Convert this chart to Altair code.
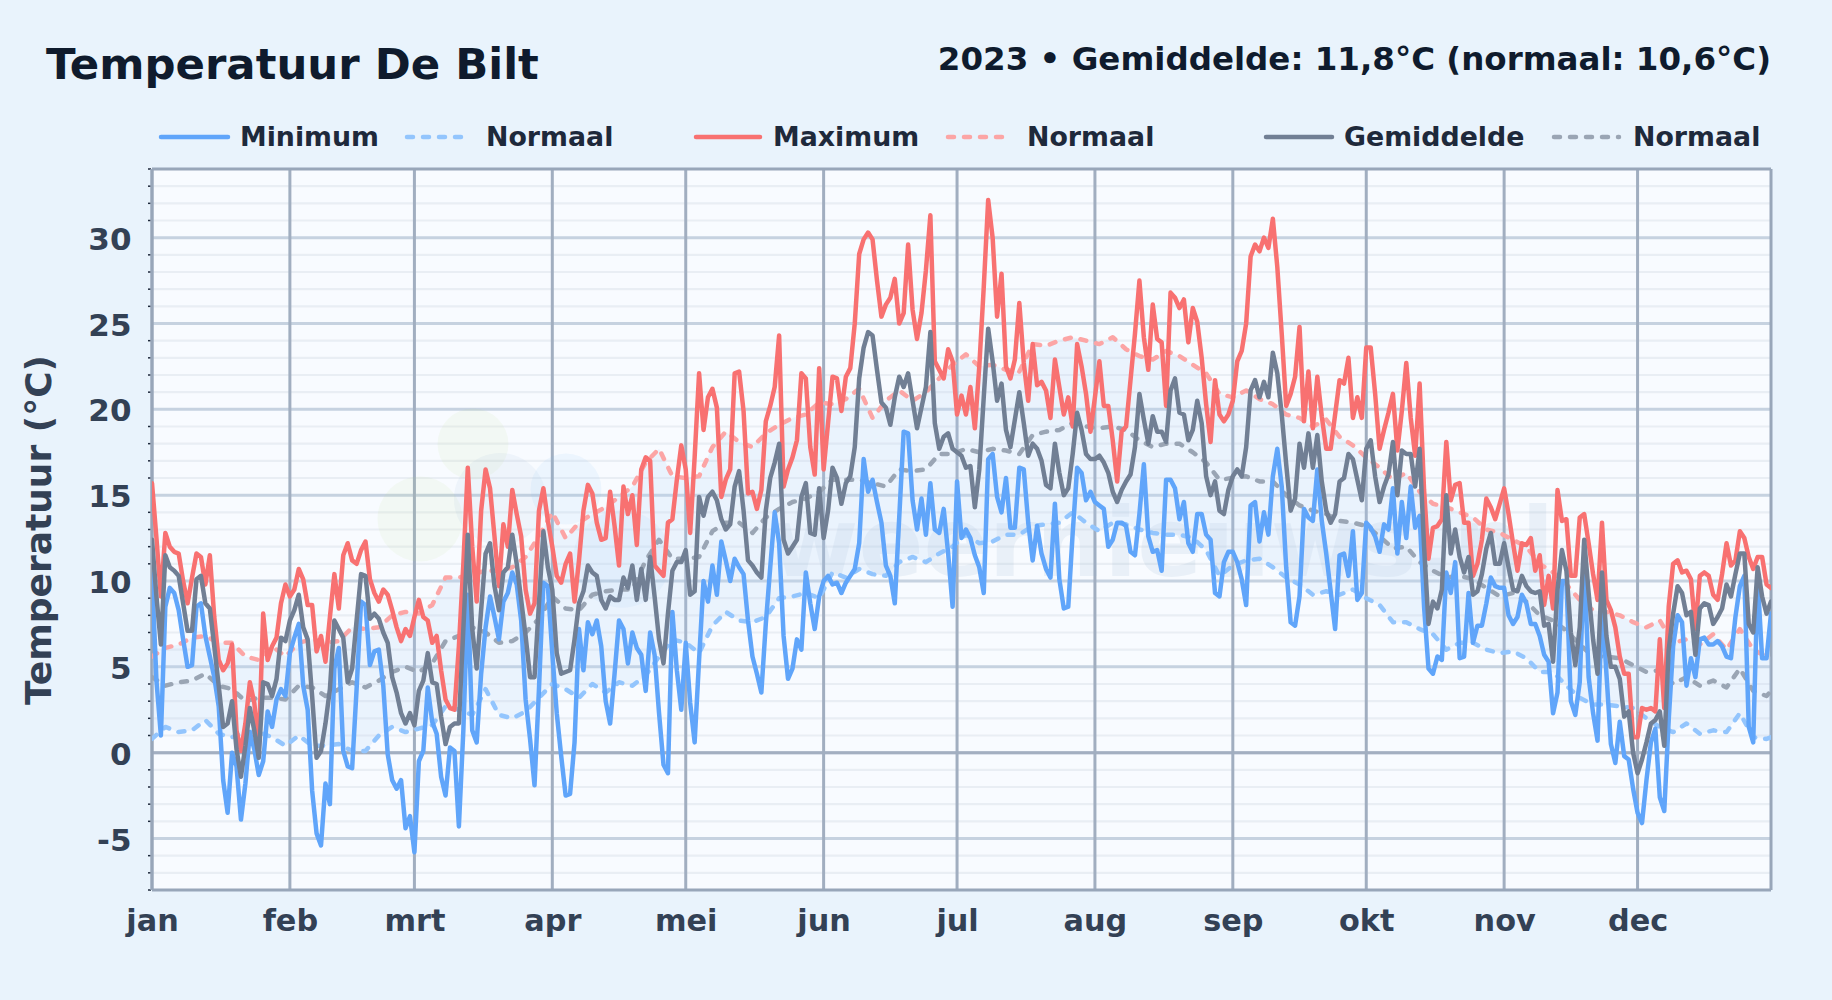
import altair as alt
import pandas as pd

TITLE = "Temperatuur De Bilt"
SUBTITLE = "2023 • Gemiddelde: 11,8°C (normaal: 10,6°C)"
MONTHS = ["jan", "feb", "mrt", "apr", "mei", "jun", "jul", "aug", "sep", "okt", "nov", "dec"]
MONTH_DAYS = [0, 31, 59, 90, 120, 151, 181, 212, 243, 273, 304, 334]
Y_MAJOR = [-5, 0, 5, 10, 15, 20, 25, 30]
Y_MINOR = [-7, -6, -4, -3, -2, -1, 1, 2, 3, 4, 6, 7, 8, 9, 11, 12, 13, 14, 16, 17, 18, 19,
           21, 22, 23, 24, 26, 27, 28, 29, 31, 32, 33]
Y_EDGES = [-8, 34]
X_EDGES = [0, 364]

T_MIN = [10.4,4.2,1.0,8.5,9.6,9.3,8.3,6.6,5.0,5.1,
 8.5,8.7,6.8,5.6,4.4,2.7,-1.6,-3.5,0.0,-0.8,
 -3.9,-1.8,1.2,0.2,-1.3,-0.5,2.4,1.5,3.1,3.7,
 3.3,5.8,6.7,7.5,3.9,2.5,-2.2,-4.7,-5.4,-1.8,
 -3.0,4.9,6.1,0.1,-0.8,-0.9,3.7,8.8,8.6,5.1,
 5.9,6.0,3.9,-0.1,-1.6,-2.1,-1.6,-4.4,-3.7,-5.8,
 -0.5,0.1,3.8,1.8,1.1,-1.4,-2.5,0.3,0.1,-4.3,
 1.3,9.2,1.3,0.6,4.6,7.3,9.1,7.9,6.6,8.8,
 9.3,10.5,9.8,7.7,3.1,0.8,-1.9,3.7,9.9,9.7,
 5.8,2.3,-0.2,-2.5,-2.4,0.6,7.2,4.8,7.6,6.9,
 7.7,6.2,3.0,1.7,4.6,7.7,7.2,5.2,7.0,6.1,
 5.7,3.6,7.0,5.7,2.3,-0.7,-1.2,8.2,4.8,2.5,
 6.4,2.9,0.6,5.4,10.0,8.8,10.9,9.2,12.3,11.2,
 10.0,11.3,10.8,10.4,7.7,5.6,4.6,3.5,7.5,10.8,
 14.0,12.2,6.8,4.3,4.9,6.6,6.0,10.5,8.7,7.2,
 9.1,10.0,10.3,9.8,9.9,9.3,9.9,10.3,10.7,12.2,
 17.1,15.2,15.9,14.6,13.4,10.9,10.3,8.7,13.7,18.7,
 18.6,14.7,13.0,14.8,12.7,15.7,13.0,12.8,14.2,11.6,
 8.5,15.8,12.5,13.0,12.5,11.5,10.8,9.3,17.1,17.4,
 14.9,14.0,16.0,13.1,13.1,16.6,16.5,13.4,11.2,13.2,
 11.6,10.7,10.2,14.5,10.1,8.4,8.5,12.8,16.6,16.3,
 14.7,15.2,14.6,14.4,14.2,12.0,12.4,13.4,13.4,13.2,
 11.7,11.5,13.9,16.8,12.6,11.7,11.8,10.6,15.9,15.9,
 15.4,13.6,14.6,12.2,11.7,13.9,13.9,12.7,12.4,9.3,
 9.1,11.1,11.7,11.7,11.1,10.1,8.6,14.4,14.6,12.3,
 14.0,12.7,16.1,17.7,15.5,10.8,7.6,7.4,9.1,14.2,
 13.7,13.5,16.5,13.5,11.6,9.4,7.2,11.5,11.6,10.3,
 12.9,8.9,9.3,13.4,13.1,12.6,11.7,13.3,13.0,15.4,
 11.6,14.6,12.5,15.5,13.1,13.8,8.5,4.9,4.6,5.6,
 5.4,10.5,9.3,11.1,5.5,5.6,9.3,6.4,7.4,7.4,
 8.7,10.2,9.7,9.6,9.6,8.0,7.5,7.9,9.2,8.7,
 7.5,7.5,6.8,5.7,5.3,2.3,3.5,10.0,10.0,3.0,
 2.2,4.1,11.2,4.4,2.3,0.7,8.7,4.6,0.5,-0.6,
 1.8,-0.2,-0.4,-2.1,-3.5,-4.1,-1.6,0.6,1.4,-2.6,
 -3.4,1.9,6.2,8.0,7.6,3.9,5.5,4.4,6.6,6.7,
 6.3,6.3,6.5,6.2,5.6,5.5,7.9,9.7,10.3,1.5,
 0.6,10.1,5.5,5.5,8.1]

T_MAX = [15.7,12.5,9.1,12.8,12.0,11.7,11.6,10.0,8.7,10.2,
 11.6,11.4,9.8,11.5,7.9,5.4,4.8,5.2,6.3,1.3,
 0.1,1.7,4.1,2.9,0.3,8.1,5.4,6.2,6.7,8.7,
 9.8,9.1,9.5,10.7,10.1,8.6,8.6,5.9,6.8,5.3,
 7.9,10.4,8.4,11.5,12.2,11.2,11.0,11.8,12.3,10.1,
 9.3,8.8,9.5,9.2,8.3,7.3,6.5,7.2,6.8,7.9,
 8.9,7.9,7.7,6.4,6.8,4.8,3.1,2.6,2.5,6.2,
 11.0,16.6,12.0,8.8,14.1,16.5,15.4,12.6,9.7,13.3,
 12.0,15.3,13.9,12.6,9.5,8.1,8.7,14.1,15.4,13.5,
 12.0,10.3,9.9,11.0,11.6,8.8,11.2,14.1,15.6,15.1,
 13.4,12.4,12.5,15.2,13.2,10.9,15.5,13.9,15.0,12.1,
 16.5,17.2,17.0,10.9,10.6,10.3,13.4,13.6,15.9,17.9,
 16.5,12.8,17.2,22.1,18.8,20.7,21.2,20.1,14.9,15.9,
 16.5,22.1,22.2,19.9,15.1,15.2,14.2,15.3,19.3,20.2,
 21.3,24.3,15.5,16.5,17.2,18.2,22.1,21.8,17.8,16.2,
 22.4,16.5,19.2,21.9,21.8,19.9,21.9,22.4,25.0,29.05,
 29.9,30.3,29.9,27.5,25.4,26.1,26.5,27.6,25.0,25.6,
 29.6,25.8,24.1,25.6,28.1,31.3,22.8,22.3,21.8,23.5,
 22.8,19.7,20.8,19.7,21.3,18.9,22.5,27.1,32.2,30.0,
 25.4,27.9,22.5,21.8,22.9,26.2,22.7,20.5,23.8,21.4,
 21.6,21.1,19.5,22.9,21.3,19.7,20.7,19.0,23.8,22.5,
 20.9,18.7,20.7,22.8,20.2,20.2,18.2,15.8,18.7,19.0,
 21.7,24.4,27.5,24.2,22.3,26.1,24.1,23.9,20.2,26.8,
 26.5,25.9,26.4,23.9,25.9,25.1,23.0,20.3,18.1,21.7,
 19.7,19.3,19.7,20.5,22.8,23.4,25.0,28.9,29.6,29.2,
 30.0,29.4,31.1,28.3,24.4,20.2,20.9,21.9,24.8,19.3,
 22.2,18.9,21.9,19.6,17.7,17.7,19.7,21.7,21.5,23.0,
 19.5,20.7,19.5,23.6,23.6,20.9,17.7,18.8,19.8,20.9,
 17.6,19.9,22.7,19.5,17.3,21.5,15.3,11.3,13.1,13.2,
 13.6,18.1,14.7,15.6,15.7,13.4,13.4,10.3,11.0,12.4,
 14.8,14.3,13.6,14.5,15.4,13.9,12.2,10.6,12.2,12.1,
 12.5,10.6,11.5,8.6,10.3,8.4,15.3,13.5,13.6,10.3,
 10.3,13.7,13.9,12.2,10.4,8.9,13.4,8.9,8.3,7.3,
 5.6,4.6,4.6,0.9,0.9,2.6,2.5,2.6,2.4,6.6,
 2.6,8.5,11.0,11.2,10.5,10.6,10.1,7.2,10.3,10.5,
 10.3,9.2,8.9,10.4,12.2,10.9,11.2,12.9,12.5,11.4,
 10.7,11.4,11.4,9.8,9.6]

T_MEAN = [12.4,9.1,6.3,11.5,10.8,10.6,10.3,8.7,7.1,7.1,
 10.1,10.3,8.7,8.4,6.2,3.9,1.5,1.7,3.0,0.2,
 -1.4,0.4,2.6,1.3,-0.3,4.1,4.0,3.3,4.3,6.7,
 6.5,7.7,8.3,9.2,7.3,6.6,3.3,-0.3,0.1,1.7,
 3.7,7.7,7.2,6.7,4.1,4.9,7.7,10.4,10.3,7.8,
 8.1,7.8,7.0,6.4,4.4,3.5,2.3,1.7,2.3,1.6,
 3.6,4.2,5.8,4.1,4.0,2.1,0.5,1.5,1.7,1.7,
 7.2,12.7,7.2,4.9,8.3,11.6,12.2,9.7,8.3,10.5,
 10.8,12.7,11.0,8.9,6.8,4.4,4.4,8.7,12.9,10.8,
 9.5,5.8,4.6,4.7,4.8,6.6,8.7,9.4,10.9,10.5,
 10.3,8.9,8.4,9.1,8.9,8.9,10.2,9.6,10.9,8.9,
 10.7,8.9,11.4,9.1,6.6,5.2,8.1,10.6,11.1,11.1,
 11.8,9.2,9.4,14.9,13.8,14.9,15.2,14.7,13.6,13.0,
 13.3,15.5,16.4,14.1,11.2,10.9,10.5,10.2,14.1,16.0,
 16.9,18.0,12.4,11.6,12.0,12.4,14.9,15.7,12.8,12.7,
 15.4,12.5,14.1,16.6,16.0,14.5,15.7,16.1,17.8,21.8,
 23.6,24.5,24.3,22.3,20.4,20.1,19.1,20.7,21.9,21.3,
 22.1,20.5,18.9,20.1,21.3,24.5,19.2,17.7,18.4,18.6,
 17.7,17.5,17.3,16.6,16.7,14.3,16.5,20.7,24.7,22.8,
 20.5,21.5,18.8,17.8,19.4,21.0,19.2,17.3,18.0,17.7,
 17.0,15.6,15.4,18.0,16.3,15.0,15.4,17.4,19.8,18.8,
 17.4,17.1,17.1,17.3,16.9,16.3,15.2,14.6,15.3,15.8,
 16.2,17.8,20.9,19.4,18.0,19.6,18.7,18.7,18.1,21.1,
 21.8,19.8,19.7,18.2,18.8,20.5,19.2,16.1,15.0,15.8,
 14.1,13.9,15.3,16.1,16.5,16.1,17.8,21.1,21.7,20.7,
 21.6,20.7,23.3,22.1,19.7,16.8,14.1,14.8,18.0,16.6,
 18.6,16.6,18.5,15.8,14.1,13.4,13.9,15.8,16.0,17.4,
 17.1,15.9,14.7,17.7,18.2,16.1,14.6,15.5,16.2,18.1,
 15.0,17.6,17.4,17.4,15.5,17.7,12.0,7.5,8.8,8.4,
 9.5,15.0,11.6,13.0,11.4,10.5,11.4,9.2,9.4,10.4,
 11.9,12.8,11.0,11.0,12.2,10.8,9.5,9.4,10.3,9.7,
 9.4,9.3,9.4,7.4,7.5,5.3,9.5,11.8,10.6,7.0,
 5.1,7.3,12.4,9.3,6.6,4.6,10.5,6.8,5.0,5.0,
 4.3,2.1,2.4,0.0,-1.2,-0.4,0.6,1.7,1.9,2.4,
 0.4,6.0,8.1,9.7,9.3,8.0,8.2,5.7,8.4,8.7,
 8.6,7.5,7.9,8.4,9.8,9.1,10.4,11.6,11.6,7.5,
 7.0,10.8,9.1,8.1,8.8]

NORMAL_DAYS = list(range(0, 364, 3)) + [364]

N_MAX = [5.6,6.1,6.3,6.7,6.8,6.4,6.4,5.6,5.4,6.2,5.6,6.4,6.6,6.4,6.5,7.3,7.2,7.3,8.0,8.2,8.1,8.6,
 10.2,10.2,10.4,10.6,10.6,10.8,11.4,12.6,14.0,12.5,13.4,13.9,14.3,14.9,15.5,16.9,17.7,16.1,16.0,16.1,
 17.8,18.7,18.1,17.8,18.6,19.1,19.5,19.7,20.4,20.3,20.6,21.2,19.5,20.5,21.1,20.5,21.0,21.8,22.6,23.2,
 22.5,22.6,22.3,22.2,23.8,23.7,24.0,24.2,24.0,23.8,24.2,23.5,23.1,22.9,23.4,23.1,22.6,22.1,20.9,20.7,
 21.1,20.6,20.3,19.7,19.5,19.0,19.4,18.4,17.9,17.2,16.6,15.9,16.3,15.2,14.5,14.3,14.0,13.7,13.0,12.8,
 12.4,12.0,11.0,10.5,9.8,8.9,8.3,8.2,8.0,7.6,7.3,7.7,6.4,6.6,6.3,6.9,6.0,7.2,6.0,5.6,5.6]

N_MEAN = [4.4,3.9,4.1,4.2,4.6,3.9,3.7,3.0,3.2,3.2,3.1,3.9,3.8,3.3,3.7,4.1,3.8,4.2,4.7,5.0,4.7,5.2,
 6.5,6.8,7.3,7.0,6.4,6.5,7.0,7.8,9.1,8.4,8.3,9.2,9.4,9.5,9.5,11.2,12.4,11.3,11.3,11.4,
 12.9,13.4,13.4,12.8,13.7,14.2,14.6,14.8,15.2,15.9,15.9,15.9,15.7,15.5,16.5,16.4,16.5,17.4,17.4,17.7,
 17.5,17.7,17.6,17.4,18.5,18.7,18.8,19.2,19.0,18.9,19.0,18.8,18.2,17.8,18.0,18.0,17.5,16.9,15.9,16.0,
 16.1,15.8,15.8,15.0,14.4,14.1,13.9,13.5,13.4,13.2,12.6,11.9,12.0,11.1,10.6,10.2,10.3,10.1,9.6,9.1,
 9.3,8.8,8.0,7.7,7.1,6.3,5.6,5.6,5.5,5.1,4.7,4.8,4.0,4.4,3.9,4.2,3.8,4.9,3.6,3.3,3.6]

N_MIN = [0.8,1.5,1.2,1.3,1.9,1.1,0.9,1.2,1.2,0.9,0.4,1.0,0.4,0.4,0.5,0.1,0.1,1.0,1.5,1.2,1.4,1.6,
 2.7,2.5,2.2,3.7,2.2,2.0,2.4,3.2,4.0,3.7,3.2,4.0,3.5,4.1,3.9,4.5,5.6,6.6,6.4,5.8,
 7.4,8.2,7.7,7.6,7.9,9.0,9.1,9.3,9.0,10.5,10.2,10.7,10.4,10.3,11.1,11.4,11.1,11.6,12.0,12.7,
 12.2,12.3,12.7,12.7,13.2,13.3,13.4,14.0,13.4,12.9,13.4,13.3,13.0,12.8,12.7,12.7,12.5,11.8,10.3,10.9,
 11.2,11.3,10.8,10.2,9.8,9.2,9.4,9.2,9.5,9.0,8.6,7.6,7.6,7.2,6.9,6.0,6.4,6.4,6.0,5.8,
 5.9,5.5,4.7,4.7,3.9,3.2,2.8,2.8,2.7,2.6,2.0,1.5,1.2,1.7,1.1,1.3,1.2,2.3,0.9,0.8,0.9]

FONT = "DejaVu Sans"
PAGE = "#e9f3fc"
PLOT = "#f8fbff"
BORDER = "#98a6b9"
C_MIN, C_MAX, C_MEAN = "#60a5fa", "#f87171", "#717f94"
C_NMIN, C_NMAX, C_NMEAN = "#93c5fd", "#fca5a5", "#9aa5b4"
DASH = [6, 10]

W, H = 1619, 721
x_scale = alt.Scale(domain=[0, 364], nice=False, zero=False)
y_scale = alt.Scale(domain=[-8, 34], nice=False, zero=False)

daily = pd.DataFrame({"d": list(range(365)), "tmin": T_MIN, "tmax": T_MAX, "tmean": T_MEAN})
normal = pd.DataFrame({"d": NORMAL_DAYS, "nmin": N_MIN, "nmax": N_MAX, "nmean": N_MEAN})
label_expr = "{" + ",".join(f"{d}:'{m}'" for d, m in zip(MONTH_DAYS, MONTHS)) + "}[datum.value]"

x_axis = alt.Axis(values=MONTH_DAYS, labelExpr=label_expr, title=None, grid=False, ticks=False, domain=False,
                  labelFont=FONT, labelFontSize=30.3, labelFontWeight="bold", labelColor="#334155",
                  labelPadding=31, labelBaseline="middle", labelOverlap=False, labelBound=False, labelFlush=False)
y_axis = alt.Axis(values=Y_MAJOR, labelExpr="datum.value + ''", title="Temperatuur (°C)",
                  grid=False, ticks=False, domain=False,
                  labelFont=FONT, labelFontSize=31, labelFontWeight="bold", labelColor="#334155", labelPadding=21,
                  labelOffset=2.5,
                  titleFont=FONT, titleFontSize=36, titleFontWeight="bold", titleColor="#334155", titlePadding=29)

def text(s, x, y, size, color, align="left", opacity=1):
    return alt.Chart().mark_text(text=s, font=FONT, fontSize=size, fontWeight="bold", color=color,
                                 opacity=opacity, align=align, baseline="middle").encode(
        x=alt.value(x), y=alt.value(y))

def blob(x, y, r, color):
    return alt.Chart().mark_point(filled=True, shape="circle", size=3.14 * r * r, color=color, opacity=0.09).encode(
        x=alt.value(x), y=alt.value(y))

def line(df, field, color, width, dash=None):
    kw = {"strokeDash": dash} if dash else {}
    return alt.Chart(df).mark_line(color=color, strokeWidth=width, strokeCap="round", strokeJoin="round",
                                   clip=True, **kw).encode(
        x=alt.X("d:Q", scale=x_scale, axis=x_axis), y=alt.Y(f"{field}:Q", scale=y_scale, axis=y_axis))

layers = []
layers.append(alt.Chart(pd.DataFrame({"v": Y_MINOR})).mark_rule(color="#e9eef4", strokeWidth=2.2).encode(
    y=alt.Y("v:Q", scale=y_scale, axis=y_axis)))
layers.append(alt.Chart(pd.DataFrame({"v": Y_MAJOR})).mark_rule(color="#c6d2e0", strokeWidth=3).encode(
    y=alt.Y("v:Q", scale=y_scale, axis=y_axis)))
layers.append(alt.Chart(pd.DataFrame({"v": [0]})).mark_rule(color="#a3afc1", strokeWidth=3).encode(
    y=alt.Y("v:Q", scale=y_scale, axis=y_axis)))
layers.append(alt.Chart(pd.DataFrame({"v": Y_MINOR + Y_EDGES})).mark_rule(color="#1e293b", strokeWidth=1.5).encode(
    y=alt.Y("v:Q", scale=y_scale, axis=y_axis), x=alt.value(-4), x2=alt.value(-1)))
layers.append(alt.Chart(pd.DataFrame({"m": MONTH_DAYS})).mark_rule(color="#a1aec0", strokeWidth=3).encode(
    x=alt.X("m:Q", scale=x_scale, axis=x_axis)))
layers.append(alt.Chart(pd.DataFrame({"v": Y_EDGES})).mark_rule(color=BORDER, strokeWidth=3).encode(
    y=alt.Y("v:Q", scale=y_scale, axis=y_axis)))
layers.append(alt.Chart(pd.DataFrame({"m": X_EDGES})).mark_rule(color=BORDER, strokeWidth=3).encode(
    x=alt.X("m:Q", scale=x_scale, axis=x_axis)))

layers += [blob(321, 275, 40, "#bfe08a"), blob(268, 350, 48, "#bfe08a"), blob(348, 330, 52, "#93b4d8"),
           blob(414, 320, 40, "#7cc0f5"), blob(470, 390, 55, "#7cc0f5")]
layers.append(text("weernieuws.nl", 1010, 378, 96, "#94b4d0", align="center", opacity=0.14))

layers.append(alt.Chart(normal).mark_area(color="#bcd6f4", opacity=0.22, clip=True).encode(
    x=alt.X("d:Q", scale=x_scale, axis=x_axis), y=alt.Y("nmin:Q", scale=y_scale, axis=y_axis), y2="nmax:Q"))

layers += [line(normal, "nmin", C_NMIN, 4.5, DASH), line(normal, "nmax", C_NMAX, 4.5, DASH),
           line(normal, "nmean", C_NMEAN, 4.5, DASH)]
layers += [line(daily, "tmin", C_MIN, 4.5), line(daily, "tmax", C_MAX, 4.5), line(daily, "tmean", C_MEAN, 4.5)]

layers.append(text(TITLE, -106, -103, 43.4, "#0f1b2d"))
layers.append(text(SUBTITLE, 1619, -109, 32.5, "#0f1b2d", align="right"))

LEGEND = [("Minimum", 9, 76, 88, C_MIN, None), ("Normaal", 255, 312, 334, C_NMIN, DASH),
          ("Maximum", 544, 608, 621, C_MAX, None), ("Normaal", 796, 855, 875, C_NMAX, DASH),
          ("Gemiddelde", 1114, 1180, 1192, C_MEAN, None), ("Normaal", 1402, 1467, 1481, C_NMEAN, DASH)]
for name, x0, x1, xt, color, dash in LEGEND:
    kw = {"strokeDash": dash, "strokeWidth": 4.5} if dash else {"strokeWidth": 4.5}
    layers.append(alt.Chart().mark_rule(color=color, strokeCap="round", **kw).encode(
        x=alt.value(x0), x2=alt.value(x1), y=alt.value(-32)))
    layers.append(text(name, xt, -31, 26.8, "#1e293b"))

chart = alt.layer(*layers).properties(
    width=W, height=H, background=PAGE,
    padding={"left": 144, "top": 161, "right": 53, "bottom": 102},
    autosize=alt.AutoSizeParams(type="none"),
).configure_view(fill=PLOT, stroke=None)

chart.save("out.html", embed_options={"renderer": "svg", "actions": False,
                                      "defaultStyle": "html,body{background:#e9f3fc;}"})
